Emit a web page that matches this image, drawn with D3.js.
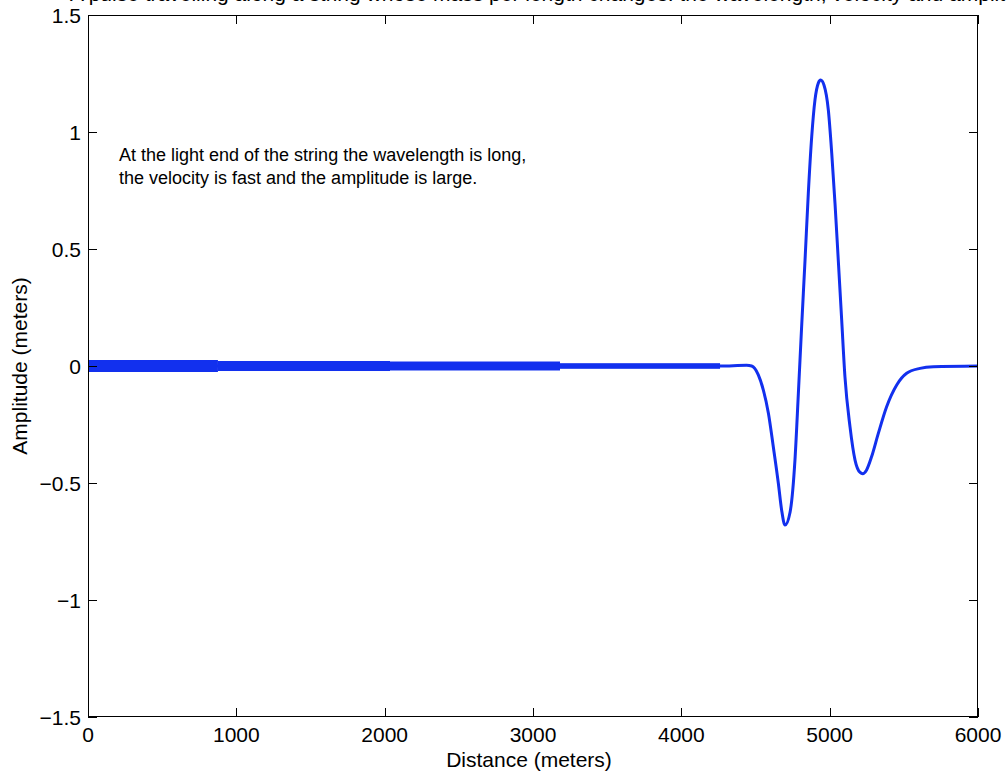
<!doctype html>
<html lang="en">
  <head>
    <meta charset="UTF-8" />
    <title>Pulse on a string</title>
    <script src="https://d3js.org/d3.v7.min.js"></script>
    <style>
      body,
      html {
        margin: 0;
        padding: 0;
        background: #fff;
        overflow: hidden;
      }
      svg {
        display: block;
        font-family: "Liberation Sans", Arial, Helvetica, sans-serif;
      }
      .tick-label {
        font-size: 21px;
        fill: #000;
      }
      .axis-title {
        font-size: 21px;
        fill: #000;
      }
      .note {
        font-size: 18px;
        fill: #000;
      }
    </style>
  </head>
  <body>
    <svg id="chart"></svg>
    <script>
      // pulse shape (distance in m, amplitude in m)
      const distance = [
        0, 3991, 4261, 4440, 4474, 4519, 4553, 4587, 4620, 4654, 4676, 4699,
        4733, 4766, 4789, 4811, 4834, 4856, 4879, 4901, 4924, 4939, 4962, 4991,
        5014, 5036, 5058, 5081, 5103, 5137, 5171, 5205, 5223, 5249, 5283, 5328,
        5384, 5452, 5519, 5609, 5699, 6000
      ];
      const amplitude = [
        0, 0, 0, 0.003, 0, -0.038, -0.103, -0.202, -0.345, -0.501, -0.615,
        -0.68, -0.625, -0.402, -0.117, 0.168, 0.453, 0.738, 0.98, 1.137, 1.21,
        1.222, 1.2, 1.094, 0.909, 0.695, 0.453, 0.197, -0.046, -0.259, -0.402,
        -0.455, -0.46, -0.444, -0.387, -0.288, -0.174, -0.081, -0.031, -0.01,
        -0.003, 0
      ];

      // the short-wavelength wiggle at the heavy end shows as solid bands
      const bandStart = [0, 876, 2036, 3182];
      const bandEnd = [876, 2036, 3182, 4261];
      const bandHalf = [0.0256, 0.0214, 0.0192, 0.012];

      const xTicks = [0, 1000, 2000, 3000, 4000, 5000, 6000];
      const yTicks = [-1.5, -1, -0.5, 0, 0.5, 1, 1.5];
      const yTickText = ["\u22121.5", "\u22121", "\u22120.5", "0", "0.5", "1", "1.5"];

      const titleText =
        "A pulse travelling along a string whose mass per length changes: the wavelength, velocity and amplitude change";
      const noteLines = [
        "At the light end of the string the wavelength is long,",
        "the velocity is fast and the amplitude is large."
      ];

      const width = 1006;
      const height = 775;
      const margin = { top: 15, right: 28, bottom: 58, left: 88 };
      const plotW = width - margin.left - margin.right;
      const plotH = height - margin.top - margin.bottom;
      const blue = "#1230ee";

      const svg = d3.select("#chart").attr("width", width).attr("height", height);

      const x = d3.scaleLinear().domain([0, 6000]).range([margin.left, margin.left + plotW]);
      const y = d3.scaleLinear().domain([-1.5, 1.5]).range([margin.top + plotH, margin.top]);

      // title, mostly cut off by the top of the picture (as in the original)
      svg
        .append("text")
        .attr("class", "axis-title")
        .attr("x", 70)
        .attr("y", 1)
        .text(titleText);

      svg
        .append("defs")
        .append("clipPath")
        .attr("id", "plot-clip")
        .append("rect")
        .attr("x", margin.left)
        .attr("y", margin.top)
        .attr("width", plotW)
        .attr("height", plotH);

      const plot = svg.append("g").attr("clip-path", "url(#plot-clip)");

      // bands
      const bands = bandStart.map((s, i) => ({ s: s, e: bandEnd[i], h: bandHalf[i] }));
      plot
        .selectAll("rect.band")
        .data(bands)
        .join("rect")
        .attr("class", "band")
        .attr("x", (d) => x(d.s))
        .attr("width", (d) => x(d.e) - x(d.s))
        .attr("y", (d) => y(d.h))
        .attr("height", (d) => y(-d.h) - y(d.h))
        .attr("fill", blue);

      // the pulse
      const points = distance.map((d, i) => [d, amplitude[i]]);
      const line = d3
        .line()
        .x((d) => x(d[0]))
        .y((d) => y(d[1]))
        .curve(d3.curveMonotoneX);

      plot
        .append("path")
        .datum(points)
        .attr("d", line)
        .attr("fill", "none")
        .attr("stroke", blue)
        .attr("stroke-width", 3)
        .attr("stroke-linejoin", "round");

      // box with inward ticks on all four sides
      const axes = svg.append("g").attr("stroke", "#000").attr("stroke-width", 1).attr("fill", "none");
      axes
        .append("rect")
        .attr("x", margin.left + 0.5)
        .attr("y", margin.top + 0.5)
        .attr("width", plotW - 1)
        .attr("height", plotH - 1);

      const tickLen = 9;
      xTicks.forEach((t) => {
        const px = Math.round(x(t)) + 0.5;
        axes.append("line").attr("x1", px).attr("x2", px).attr("y1", margin.top + plotH).attr("y2", margin.top + plotH - tickLen);
        axes.append("line").attr("x1", px).attr("x2", px).attr("y1", margin.top).attr("y2", margin.top + tickLen);
      });
      yTicks.forEach((t) => {
        const py = Math.round(y(t)) + 0.5;
        axes.append("line").attr("x1", margin.left).attr("x2", margin.left + tickLen).attr("y1", py).attr("y2", py);
        axes.append("line").attr("x1", margin.left + plotW).attr("x2", margin.left + plotW - tickLen).attr("y1", py).attr("y2", py);
      });

      // tick labels
      svg
        .selectAll("text.xlab")
        .data(xTicks)
        .join("text")
        .attr("class", "tick-label xlab")
        .attr("x", (d) => x(d))
        .attr("y", margin.top + plotH + 25)
        .attr("text-anchor", "middle")
        .text((d) => d);

      svg
        .selectAll("text.ylab")
        .data(yTicks)
        .join("text")
        .attr("class", "tick-label ylab")
        .attr("x", margin.left - 7)
        .attr("y", (d) => y(d) + 7.5)
        .attr("text-anchor", "end")
        .text((d, i) => yTickText[i]);

      // axis titles
      svg
        .append("text")
        .attr("class", "axis-title")
        .attr("x", margin.left + plotW / 2 - 4)
        .attr("y", 767)
        .attr("text-anchor", "middle")
        .text("Distance (meters)");

      svg
        .append("text")
        .attr("class", "axis-title")
        .attr("transform", `translate(27, ${y(0)}) rotate(-90)`)
        .attr("text-anchor", "middle")
        .text("Amplitude (meters)");

      // annotation
      svg
        .append("text")
        .attr("class", "note")
        .selectAll("tspan")
        .data(noteLines)
        .join("tspan")
        .attr("x", 119)
        .attr("y", (d, i) => 161 + i * 23)
        .text((d) => d);
    </script>
  </body>
</html>
